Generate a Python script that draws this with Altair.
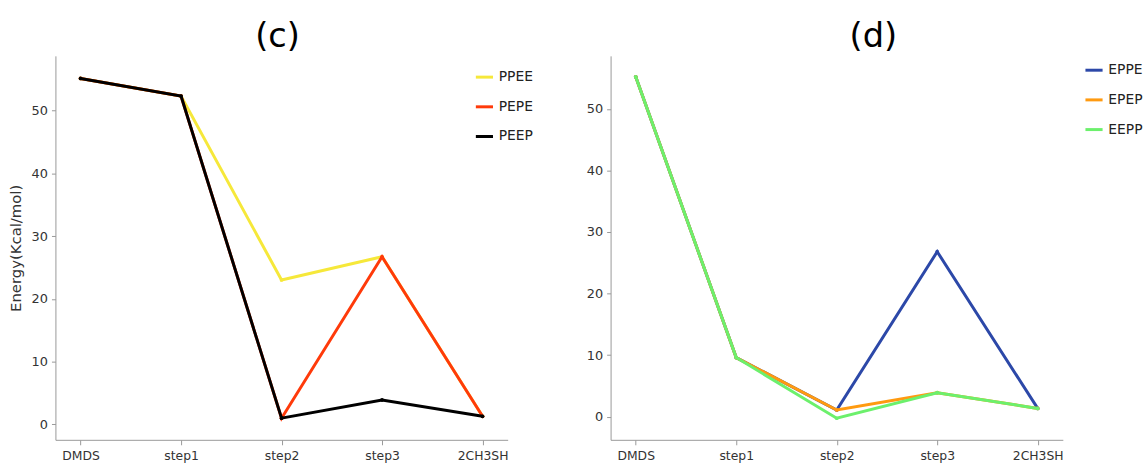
import altair as alt
import pandas as pd

steps = ["DMDS", "step1", "step2", "step3", "2CH3SH"]

c_series = ["PPEE", "PEPE", "PEEP"]
c_colors = ["#f6e83a", "#ff3a0a", "#000000"]
c_ppee = [55.1, 52.3, 23.0, 26.7, 1.3]
c_pepe = [55.1, 52.3, 1.0, 26.7, 1.3]
c_peep = [55.1, 52.3, 1.0, 3.9, 1.3]

d_series = ["EPPE", "EPEP", "EEPP"]
d_colors = ["#2c48a8", "#ff9a10", "#6cf06c"]
d_eppe = [55.2, 9.6, 1.1, 26.8, 1.35]
d_epep = [55.2, 9.6, 1.1, 3.9, 1.35]
d_eepp = [55.2, 9.6, -0.25, 3.9, 1.35]

FONT = "DejaVu Sans"


def make_df(series, values):
    rows = []
    for s, vals in zip(series, values):
        for st, v in zip(steps, vals):
            rows.append({"step": st, "series": s, "value": v})
    return pd.DataFrame(rows)


def panel(series, values, colors, ydomain, title, dx, ytitle, lx, ly):
    df = make_df(series, values)
    color = alt.Color(
        "series:N",
        scale=alt.Scale(domain=series, range=colors),
        legend=alt.Legend(
            title=None, orient="none", legendX=lx, legendY=ly,
            symbolType="stroke", symbolStrokeWidth=3, symbolSize=300,
            labelFontSize=14, labelFont=FONT, labelColor="#222",
            rowPadding=12, labelOffset=4, padding=0,
        ),
    )
    x = alt.X(
        "step:N", sort=steps,
        scale=alt.Scale(type="point", padding=0.25),
        axis=alt.Axis(title=None, labelAngle=0, labelFontSize=12.5, labelFont=FONT,
                      labelColor="#333", domainColor="#999", tickColor="#999",
                      tickSize=5, labelPadding=5, grid=False),
    )
    yaxis = alt.Axis(values=[0, 10, 20, 30, 40, 50], labelFontSize=13, labelFont=FONT,
                     labelColor="#333", domainColor="#999", tickColor="#999",
                     tickSize=4, labelPadding=4, grid=False,
                     title=ytitle if ytitle else None,
                     titleFont=FONT, titleFontSize=15, titleFontWeight="normal",
                     titleColor="#333", titlePadding=8)
    y = alt.Y("value:Q", scale=alt.Scale(domain=ydomain, nice=False, zero=False),
              axis=yaxis)
    layers = []
    for s in series:
        layers.append(
            alt.Chart(df)
            .transform_filter(alt.datum.series == s)
            .mark_line(strokeWidth=3, point=alt.OverlayMarkDef(size=14, filled=True))
            .encode(x=x, y=y, color=color)
        )
    return alt.layer(*layers).properties(
        width=457, height=388,
        title=alt.TitleParams(title, fontSize=34, font=FONT, fontWeight="normal",
                              color="#000", anchor="middle", frame="group", dx=dx,
                              offset=2),
    )


left = panel(c_series, [c_ppee, c_pepe, c_peep], c_colors, [-2.45, 58.7], "(c)", -4,
             "Energy(Kcal/mol)", 423, 11)
right = panel(d_series, [d_eppe, d_epep, d_eepp], d_colors, [-3.75, 58.6], "(d)", 37,
              None, 478, 4)

chart = (
    alt.hconcat(left, right, spacing=104, bounds="flush")
    .resolve_scale(color="independent", y="independent")
    .configure_view(stroke=None)
    .properties(padding={"left": 8, "top": 18, "right": 0, "bottom": 0})
)

chart.save("out.html", embed_options={"renderer": "svg", "actions": False})
